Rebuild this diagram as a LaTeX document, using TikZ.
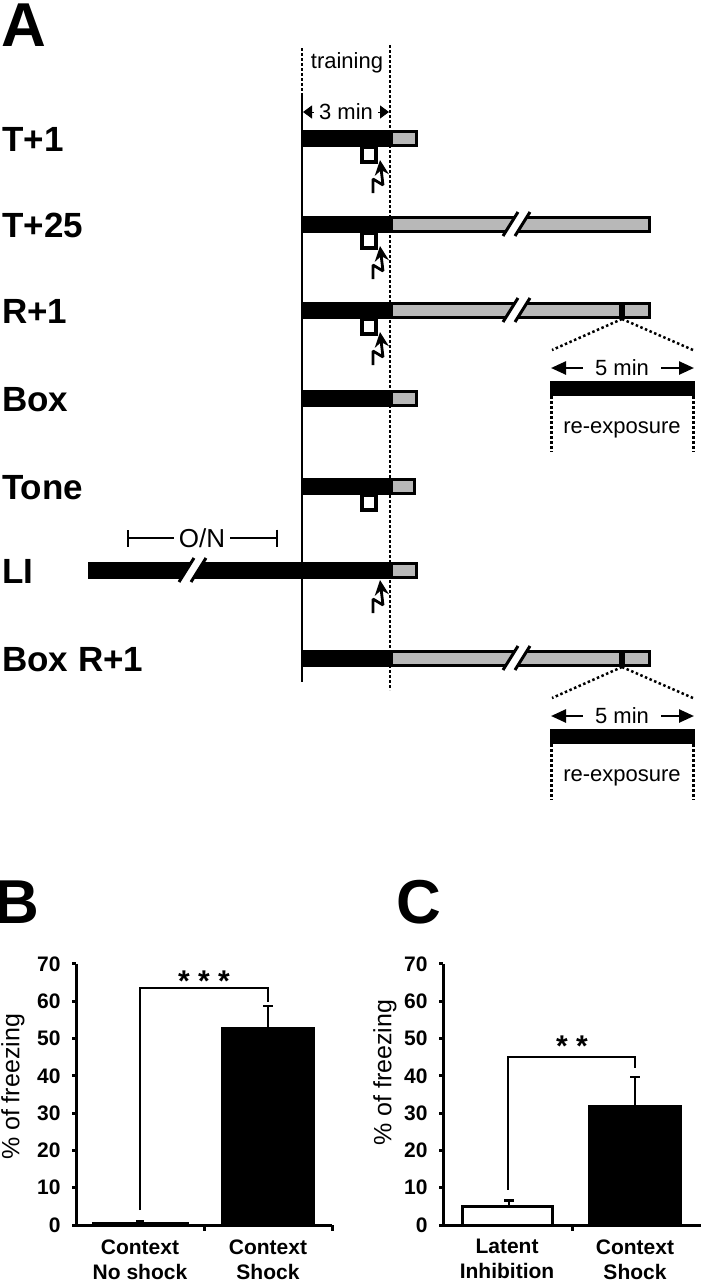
\documentclass[tikz,border=0pt]{standalone}
\usepackage{fontspec}
\setmainfont{Liberation Sans}
\usepackage{tikz}
\usetikzlibrary{arrows.meta}
\definecolor{boxgray}{gray}{0.72}
\tikzstyle{panel} = [inner sep=0pt, font=\fontsize{62}{62}\selectfont\bfseries]
\tikzstyle{rowlabel} = [anchor=base west, inner sep=0pt, font=\fontsize{35}{35}\selectfont\bfseries]
\tikzstyle{small} = [inner sep=1pt, font=\fontsize{22}{22}\selectfont]
\tikzstyle{tick} = [anchor=east, inner sep=0pt, font=\fontsize{21}{21}\selectfont\bfseries]
\tikzstyle{cond} = [anchor=north, align=center, inner sep=0pt, font=\fontsize{21}{25}\selectfont\bfseries]
\tikzstyle{stars} = [inner sep=0pt, font=\fontsize{30}{30}\selectfont\bfseries]
\tikzstyle{ytitle} = [rotate=90, inner sep=0pt, font=\fontsize{25}{25}\selectfont]
\tikzstyle{graybar} = [fill=boxgray, draw=black, line width=3pt]
\tikzstyle{dots} = [line width=2.5pt, dash pattern=on 2.5pt off 2.5pt]
\tikzstyle{axis} = [line width=3pt]
\tikzstyle{bracket} = [line width=2.5pt]
\tikzstyle{arrow} = [line width=2.5pt, -{Triangle[length=15pt,width=13pt]}]
\newcommand{\shockbox}[1]{\draw[line width=4pt] (362,#1+8.5) rectangle (376,#1+24);}
\newcommand{\shockarrow}[1]{\draw[line width=2.8pt, line join=bevel, -{Stealth[length=15pt,width=14pt]}] (373,#1+33) -- (373,#1+19) -- (383,#1+25) -- (380,#1);}
\newcommand{\cutmark}[2]{\fill[white] (#1,#2+12) -- (#1+15,#2-12) -- (#1+27,#2-12) -- (#1+12,#2+12) -- cycle;
  \draw[line width=3pt] (#1,#2+12) -- (#1+15,#2-12) (#1+12,#2+12) -- (#1+27,#2-12);}
\newcommand{\reexpo}[1]{%
  \fill (619,#1-7) rectangle (625,#1+7);
  \draw[dots] (622,#1+9) -- (552,#1+40);
  \draw[dots] (622,#1+9) -- (693,#1+40);
  \node[small, inner sep=12pt] (fivemin#1) at (622,#1+58) {5 min};
  \coordinate (fl#1) at (551,#1+58);
  \coordinate (fr#1) at (694,#1+58);
  \draw[arrow] (fivemin#1.west) -- (fl#1);
  \draw[arrow] (fivemin#1.east) -- (fr#1);
  \fill (550,#1+71) rectangle (695,#1+86);
  \draw[dots] (551.5,#1+86) -- (551.5,#1+142);
  \draw[dots] (693.5,#1+86) -- (693.5,#1+142);
  \node[small] (reexp#1) at (622,#1+120) {re-exposure};}
\begin{document}
\begin{tikzpicture}[x=1pt, y=-1pt]
\useasboundingbox (0,0) rectangle (701,1280);

\node[panel, anchor=base west] (pA) at (1,46) {A};
\node[small] (train) at (347,63) {training};
\node[small, inner sep=5pt] (threemin) at (346,112) {3 min};
\coordinate (tl) at (303,112);
\coordinate (tr) at (389,112);
\draw[-{Triangle[length=9pt,width=13pt]}, line width=1pt] (threemin.west) -- (tl);
\draw[-{Triangle[length=9pt,width=13pt]}, line width=1pt] (threemin.east) -- (tr);
\draw[dots] (302,48) -- (302,95);
\draw[line width=2pt] (302,95) -- (302,682);

\node[rowlabel] (lT1) at (2,151) {T+1};
\node[rowlabel] (lT25) at (2,237) {T+25};
\node[rowlabel] (lR1) at (2,323) {R+1};
\node[rowlabel] (lBox) at (2,411) {Box};
\node[rowlabel] (lTone) at (2,499) {Tone};
\node[rowlabel] (lLI) at (2,583) {LI};
\node[rowlabel] (lBoxR1) at (2,671) {Box R+1};

\draw[graybar] (391.5,131) rectangle (416.5,145);
\fill (302,129.5) rectangle (391,146.5);
\shockbox{138}
\shockarrow{160}

\draw[graybar] (391.5,217) rectangle (649.5,231);
\fill (302,215.5) rectangle (391,232.5);
\cutmark{503}{224}
\shockbox{224}
\shockarrow{246}

\draw[graybar] (391.5,303) rectangle (649.5,317);
\fill (302,301.5) rectangle (391,318.5);
\cutmark{503}{310}
\shockbox{310}
\shockarrow{332}
\reexpo{310}

\draw[graybar] (391.5,391) rectangle (416.5,405);
\fill (302,389.5) rectangle (391,406.5);

\draw[graybar] (391.5,479) rectangle (414.5,493);
\fill (302,477.5) rectangle (391,494.5);
\shockbox{486}

\node[small, inner sep=5pt, font=\fontsize{26}{26}\selectfont] (on) at (202,538) {O/N};
\draw[line width=2pt, {Bar[width=17pt]}-] (127,538) -- (on.west);
\draw[line width=2pt, -{Bar[width=17pt]}] (on.east) -- (278,538);
\draw[graybar] (391.5,563) rectangle (416.5,577);
\fill (88,561.5) rectangle (391,578.5);
\cutmark{179}{570}
\shockarrow{580}

\draw[graybar] (391.5,651) rectangle (649.5,665);
\fill (302,649.5) rectangle (391,666.5);
\cutmark{503}{658}
\reexpo{658}

\draw[dots] (390,45) -- (390,690);

\node[panel, anchor=base east] (pB) at (39,923) {B};
\begin{scope}[shift={(76,1225)}, y=3.73pt]
\node[ytitle] (bytit) at (-63,37) {\% of freezing};
\draw[axis] (0,70) -- (0,0) -- (256,0);
\foreach \v in {0,10,...,70} \draw[axis] (0,\v) -- (-4,\v) node[tick, xshift=-10pt] (b\v) {\v};
\draw[axis] (128,0) -- (128,-1.5);
\draw[axis] (256,0) -- (256,-1.5);
\draw[line width=3pt, fill=white] (17,0) rectangle (111,0.5);
\draw[line width=2.5pt] (64,0.5) -- (64,1.1) (60,1.1) -- (68,1.1);
\fill (145,0) rectangle (239,53);
\draw[line width=2.5pt] (192,53) -- (192,58.7) (187,58.7) -- (197,58.7);
\draw[bracket] (64,4) -- (64,63.5) -- (192,63.5) -- (192,59.8);
\node[stars] (bsig) at (128,65.5) {* * *};
\node[cond] (bc1) at (64,-3.8) {Context\\No shock};
\node[cond] (bc2) at (192,-3.8) {Context\\Shock};
\end{scope}

\node[panel, anchor=base west] (pC) at (396,923) {C};
\begin{scope}[shift={(443,1225)}, y=3.73pt]
\node[ytitle] (cytit) at (-58,40.8) {\% of freezing};
\draw[axis] (0,70) -- (0,0) -- (258,0);
\foreach \v in {0,10,...,70} \draw[axis] (0,\v) -- (-4,\v) node[tick, xshift=-10pt] (c\v) {\v};
\draw[axis] (129,0) -- (129,-1.5);
\draw[line width=3pt, fill=white] (19.5,0) rectangle (109.5,5);
\draw[line width=2.5pt] (66,5) -- (66,6.6) (61,6.6) -- (71,6.6);
\fill (145,0) rectangle (239,32.3);
\draw[line width=2.5pt] (192,32.3) -- (192,39.7) (187,39.7) -- (197,39.7);
\draw[bracket] (65,9.4) -- (65,45) -- (192,45) -- (192,42);
\node[stars] (csig) at (129,48) {* *};
\node[cond] (cc1) at (64,-3.8) {Latent\\Inhibition};
\node[cond] (cc2) at (192,-3.8) {Context\\Shock};
\end{scope}
\end{tikzpicture}
\end{document}
